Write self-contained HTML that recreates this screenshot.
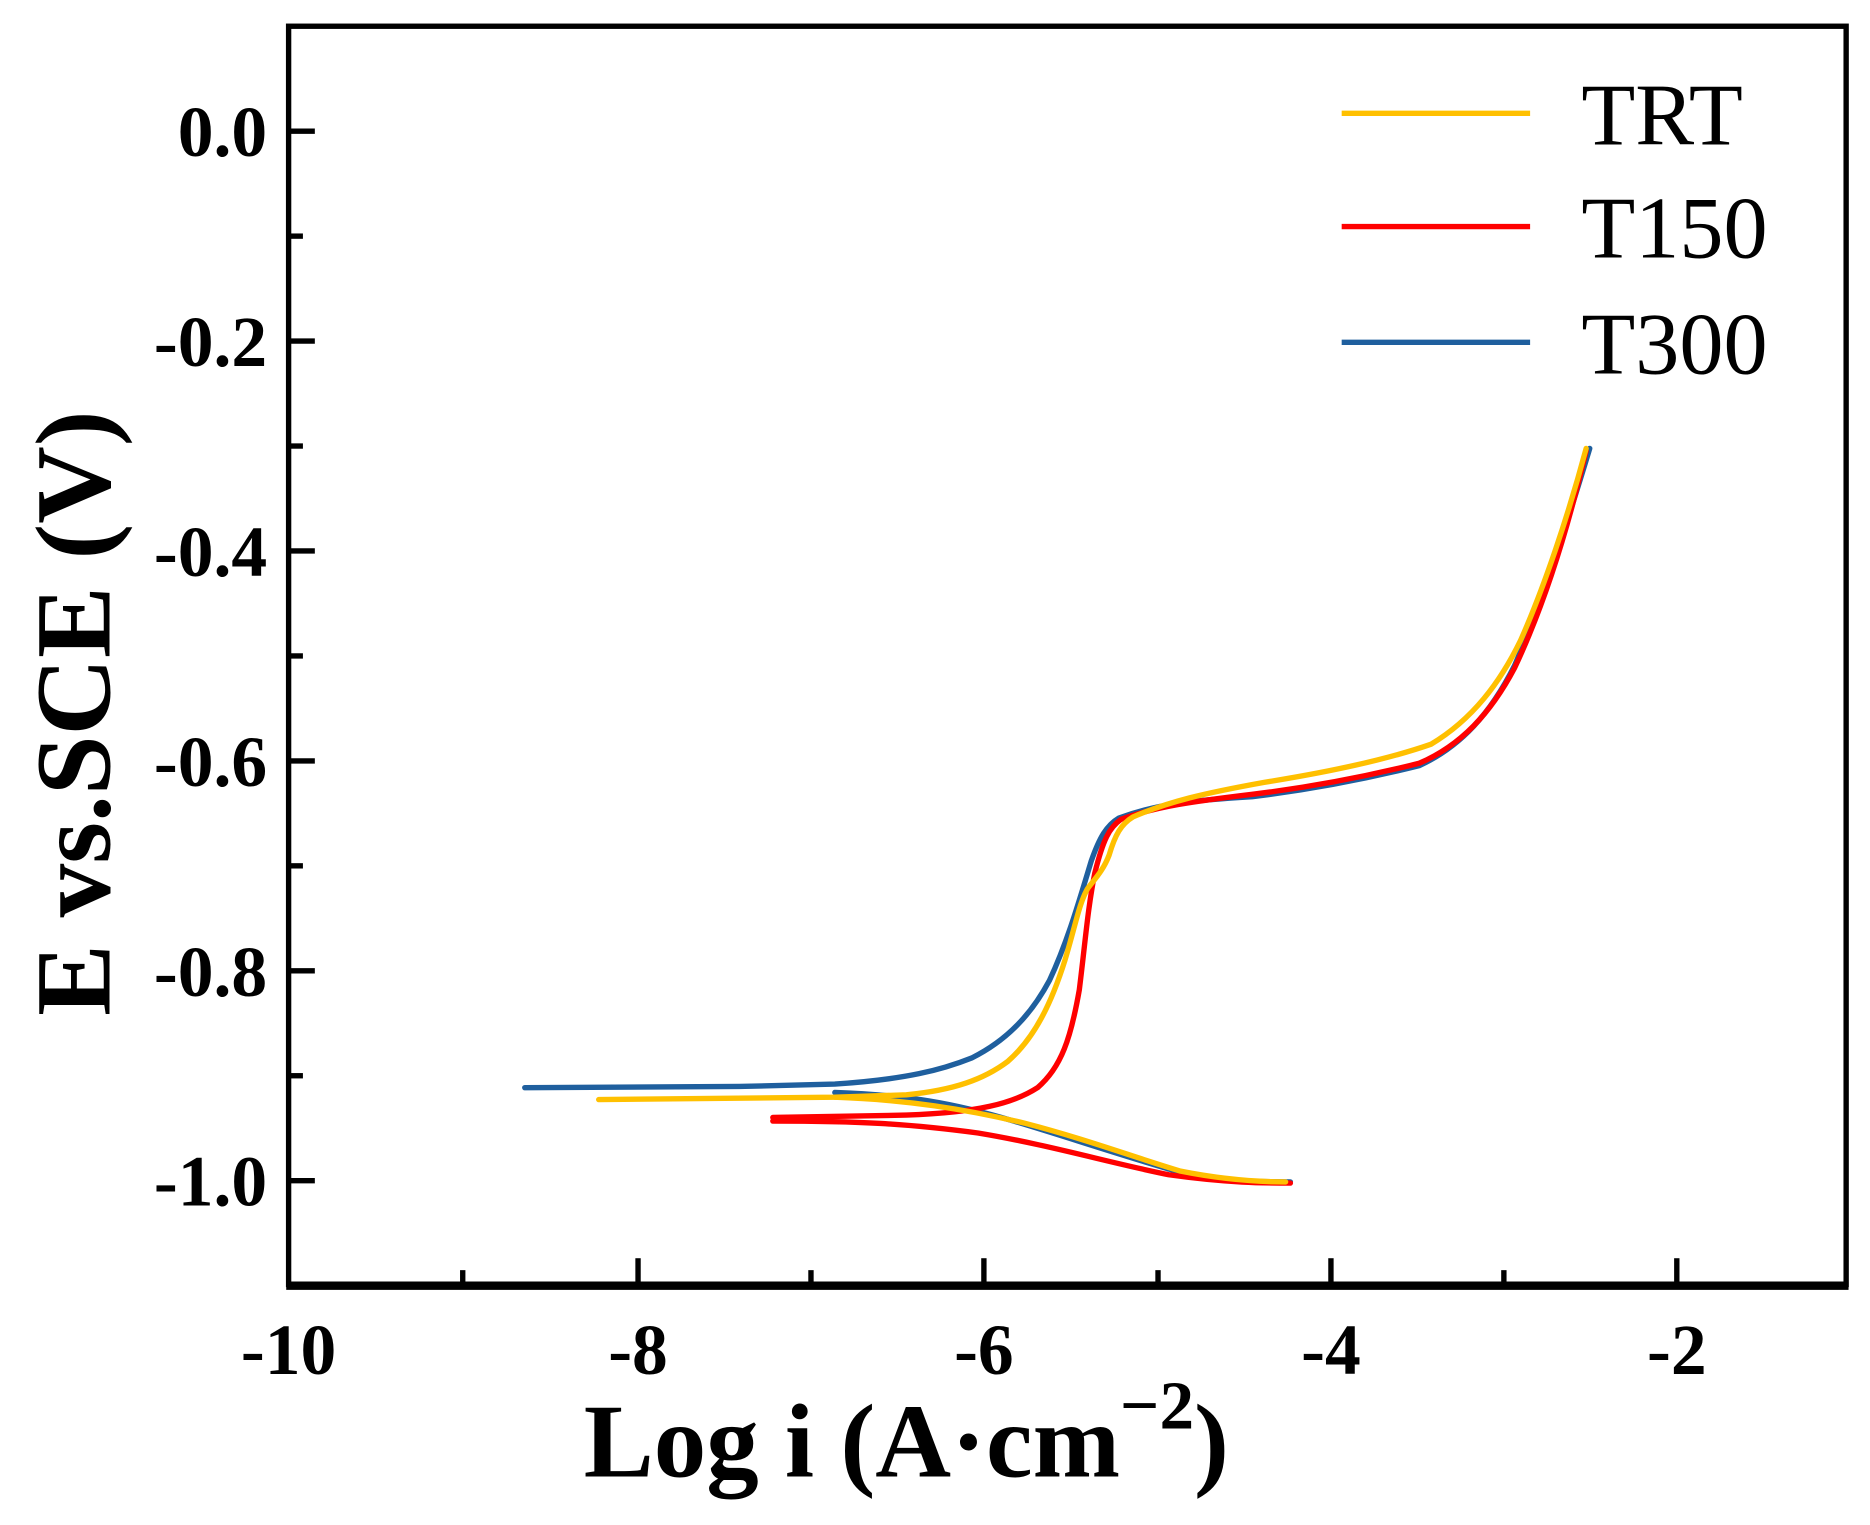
<!DOCTYPE html>
<html><head><meta charset="utf-8"><style>
html,body{margin:0;padding:0;background:#fff;}
svg{display:block;}
text{font-family:"Liberation Serif",serif;}
</style></head><body>
<svg width="1870" height="1525" viewBox="0 0 1568 1278.7" preserveAspectRatio="none" xmlns="http://www.w3.org/2000/svg">
<rect width="1568" height="1279" fill="#fff"/>
<g fill="none" stroke-linecap="round" stroke-linejoin="round" stroke-width="4.5">
<path stroke="#1F5F9E" d="M440,912 L620,911 L700,909 C760,905 790,897 815,887 C845,872 865,850 880,822 C895,790 905,755 915,722 C922,702 928,692 938,686 C970,674 1000,671 1050,668 C1100,662 1150,652 1190,642 C1225,626 1250,598 1270,558 C1290,512 1310,452 1333,376"/>
<path stroke="#1F5F9E" d="M700,916 C760,918 800,925 850,940 C900,955 950,972 990,983 C1030,991 1060,991 1082,991"/>
<path stroke="#FF0000" d="M648,937 L760,935 C820,933 850,925 870,912 C890,895 898,870 905,830 C910,790 912,762 918,732 C925,704 930,694 940,687 C970,676 1000,672 1050,666 C1100,660 1150,650 1190,640 C1225,625 1250,598 1270,560 C1295,507 1315,442 1330,378"/>
<path stroke="#FF0000" d="M648,940 C720,940 760,942 820,950 C880,960 930,975 980,985 C1030,992 1060,992 1082,992"/>
<path stroke="#FFC000" d="M502,922 L700,920 L760,918 C800,914 825,905 845,890 C868,870 882,840 893,805 C902,775 905,757 912,745 C918,737 925,730 930,717 C935,700 940,691 950,685 C980,672 1010,665 1060,656 C1110,648 1160,638 1200,624 C1235,603 1258,572 1275,537 C1295,492 1315,432 1330,376"/>
<path stroke="#FFC000" d="M700,920 C760,922 810,930 860,942 C910,955 950,970 990,982 C1030,990 1060,991 1078,991"/>
</g>
<g stroke="#000" stroke-width="4.5" fill="none">
<rect x="242" y="22" width="1306" height="1055"/>
<line x1="240" y1="1078" x2="1550" y2="1078" stroke-width="7"/>
</g>
<g stroke="#000" stroke-width="4.5">
<line x1="242" y1="110" x2="264" y2="110"/>
<line x1="242" y1="286" x2="264" y2="286"/>
<line x1="242" y1="462" x2="264" y2="462"/>
<line x1="242" y1="638" x2="264" y2="638"/>
<line x1="242" y1="814" x2="264" y2="814"/>
<line x1="242" y1="990" x2="264" y2="990"/>
<line x1="242" y1="198" x2="254" y2="198"/>
<line x1="242" y1="374" x2="254" y2="374"/>
<line x1="242" y1="550" x2="254" y2="550"/>
<line x1="242" y1="726" x2="254" y2="726"/>
<line x1="242" y1="902" x2="254" y2="902"/>
<line x1="535" y1="1077" x2="535" y2="1055"/>
<line x1="825" y1="1077" x2="825" y2="1055"/>
<line x1="1116" y1="1077" x2="1116" y2="1055"/>
<line x1="1406" y1="1077" x2="1406" y2="1055"/>
<line x1="388" y1="1077" x2="388" y2="1065"/>
<line x1="680" y1="1077" x2="680" y2="1065"/>
<line x1="971" y1="1077" x2="971" y2="1065"/>
<line x1="1261" y1="1077" x2="1261" y2="1065"/>
</g>
<g font-size="60" font-weight="bold" text-anchor="end">
<text x="224" y="131">0.0</text>
<text x="224" y="307">-0.2</text>
<text x="224" y="483">-0.4</text>
<text x="224" y="659">-0.6</text>
<text x="224" y="835">-0.8</text>
<text x="224" y="1011">-1.0</text>
</g>
<g font-size="60" font-weight="bold" text-anchor="middle">
<text x="242" y="1152">-10</text>
<text x="535" y="1152">-8</text>
<text x="825" y="1152">-6</text>
<text x="1116" y="1152">-4</text>
<text x="1406" y="1152">-2</text>
</g>
<text x="760" y="1238" font-size="88" font-weight="bold" text-anchor="middle">Log i (A·cm<tspan font-size="58" dy="-40">−2</tspan><tspan dy="40">)</tspan></text>
<text transform="translate(92,598) rotate(-90)" font-size="90" font-weight="bold" text-anchor="middle">E vs.SCE (V)</text>
<g stroke-width="4.5">
<line x1="1125" y1="95" x2="1283" y2="95" stroke="#FFC000"/>
<line x1="1125" y1="190" x2="1283" y2="190" stroke="#FF0000"/>
<line x1="1125" y1="287" x2="1283" y2="287" stroke="#1F5F9E"/>
</g>
<g font-size="74">
<text x="1326" y="121">TRT</text>
<text x="1326" y="216">T150</text>
<text x="1326" y="313">T300</text>
</g>
</svg>
</body></html>
